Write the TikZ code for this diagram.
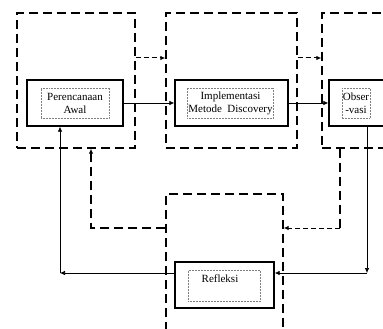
\documentclass[tikz,border=0pt]{standalone}
\usepackage{fontspec}
\setmainfont{Liberation Serif}
\usetikzlibrary{arrows.meta}

\begin{document}
\begin{tikzpicture}[x=1pt,y=-1pt,
        stage/.style={draw,line width=1.3pt,dash pattern=on 9pt off 5pt,minimum width=#1},
        stage/.default=118pt,
        stepbox/.style={draw,line width=1.4pt,minimum height=46pt,minimum width=#1},
        steplbl/.style={draw=gray,densely dotted,line width=0.5pt,minimum height=30pt,
            inner sep=1pt,align=center,font=\fontsize{11}{13}\selectfont,minimum width=#1},
        flow/.style={line width=0.7pt,-{Latex[length=5pt,width=4.5pt]}},
        dflow/.style={line width=1pt,dash pattern=on 5pt off 3pt,-{Latex[length=5pt,width=4.5pt]}},
        bflow/.style={line width=1.3pt,dash pattern=on 9pt off 5pt,-{Latex[length=5pt,width=4.5pt]}}]
        \useasboundingbox (0,0) rectangle (383,329);
        \clip (0,0) rectangle (383,329);
        \node[stage,minimum height=135pt] (s1) at (76,80.5) {};
        \node[stage=131pt,minimum height=135pt] (s2) at (231.5,80.5) {};
        \node[stage=130pt,minimum height=135pt] (s3) at (387,80.5) {};
        \node[stage=117pt,minimum height=170pt] (s4) at (224.5,279) {};
        \node[stepbox=96pt] (plan) at (75,103) {};
        \node[steplbl=68pt] (planlbl) at (75,103) {Perencanaan\\Awal};
        \node[stepbox=113pt] (impl) at (231.5,103) {};
        \node[steplbl=83pt] (impllbl) at (230.5,103) {Implementasi\\Metode\ \ Discovery};
        \node[stepbox=80pt] (obs) at (369,103) {};
        \node[steplbl=28pt] (obslbl) at (356,103) {Obser\\-vasi};
        \node[stepbox=99pt] (refl) at (224.5,285) {};
        \node[draw=gray,densely dotted,line width=0.5pt,minimum width=72pt,minimum height=31pt] (refllbl) at (224,285.5) {};
        \node[font=\fontsize{11}{13}\selectfont,anchor=north] (refltxt) at ([xshift=-4pt,yshift=-1pt]refllbl.north) {Refleksi};
        \coordinate (d1) at (0,58);
        \coordinate (d2) at (340,228);
        \coordinate (d3) at (91,228);
        \coordinate (c1) at (367,273);
        \coordinate (c2) at (60,273);
        \draw[dflow] (s1.east |- d1) -- (s2.west |- d1);
        \draw[dflow] (s2.east |- d1) -- (s3.west |- d1);
        \draw[flow] (plan.east) -- (impl.west);
        \draw[flow] (impl.east) -- (obs.west);
        \draw[flow] (obs.south -| c1) -- (c1);
        \draw[flow] (c1) -- (refl.east |- c1);
        \draw[flow] (refl.west |- c2) -- (c2);
        \draw[flow] (c2) -- (plan.south -| c2);
        \draw[line width=1.3pt,dash pattern=on 9pt off 5pt] (s3.south -| d2) -- (d2);
        \draw[dflow] (d2) -- (s4.east |- d2);
        \draw[bflow] (s4.west |- d3) -- (d3) -- (s1.south -| d3);
\end{tikzpicture}
\end{document}
